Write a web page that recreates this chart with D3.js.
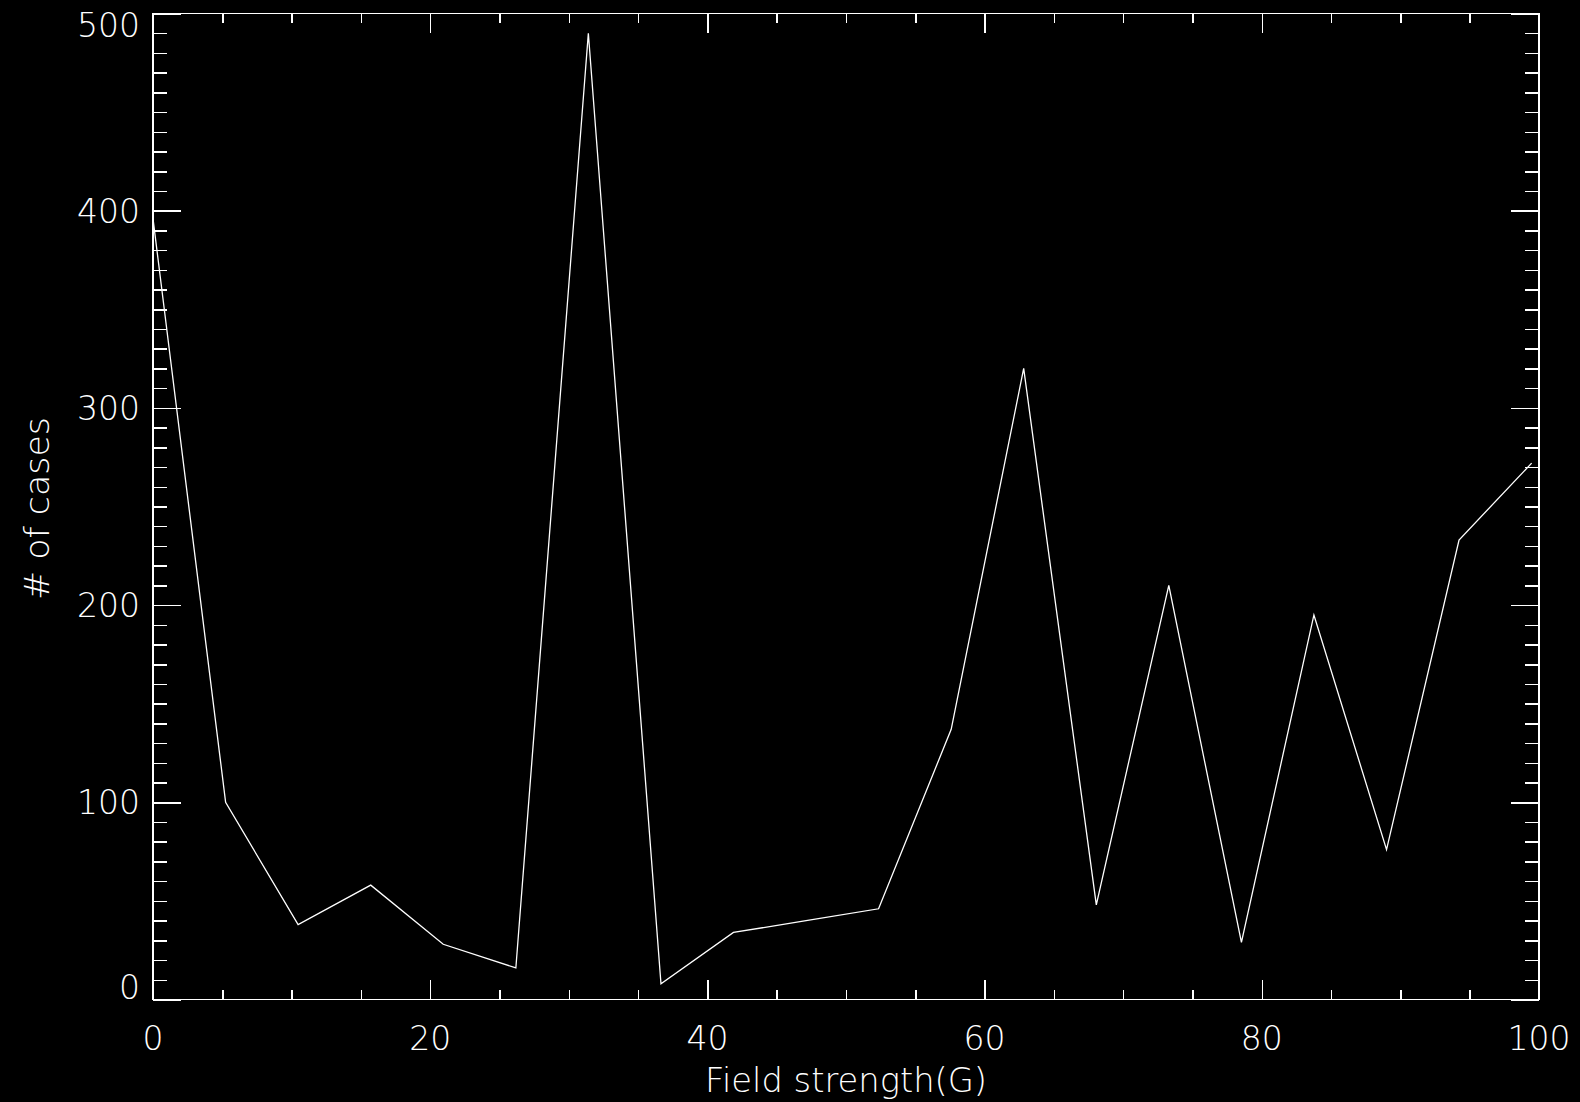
<!DOCTYPE html>
<html>
<head>
<meta charset="utf-8">
<script src="https://cdn.jsdelivr.net/npm/d3@7"></script>
<style>
  html, body { margin: 0; padding: 0; background: #000; }
  svg { display: block; }
  text { fill: #fff; font-family: "DejaVu Sans", sans-serif; font-weight: 200; }
</style>
</head>
<body>
<script>
// histogram of field strengths
const fieldStrength = [0, 5.24, 10.47, 15.71, 20.94, 26.18, 31.41, 36.65, 41.88, 47.12,
  52.35, 57.59, 62.82, 68.06, 73.29, 78.53, 83.76, 89.0, 94.23, 99.47];
const cases = [396, 100, 38, 58, 28, 16, 490, 8, 34, 40,
  46, 137, 320, 48, 210, 29, 195, 76, 233, 272];

const xTicks = [0, 20, 40, 60, 80, 100];
const yTicks = [0, 100, 200, 300, 400, 500];
const xTitle = "Field strength(G)";
const yTitle = "# of cases";

const w = 1580;
const h = 1102;
const pLeft = 153, pRight = 1539, pTop = 13.5, pBottom = 999.5;

const xScale = d3.scaleLinear().domain([0, 100]).range([pLeft, pRight]);
const yScale = d3.scaleLinear().domain([0, 500]).range([pBottom, pTop]);

const svg = d3.select("body").append("svg")
  .attr("width", w)
  .attr("height", h);

const xMinor = d3.range(0, 101, 5).filter(v => !xTicks.includes(v));
const yMinor = d3.range(0, 501, 10).filter(v => !yTicks.includes(v));

// tick length like IDL: 2% of the other side
const xLen = 0.02 * (pBottom - pTop);
const yLen = 0.02 * (pRight - pLeft);

function drawAxis(axis, tr) {
  const g = svg.append("g").attr("transform", tr).call(axis);
  g.select(".domain").remove();
  g.selectAll("line").attr("stroke", "#fff").attr("stroke-width", 1.5).attr("shape-rendering", "crispEdges");
  return g;
}

// bottom / top
drawAxis(d3.axisBottom(xScale).tickValues(xTicks).tickSize(-xLen).tickFormat(""), "translate(0," + pBottom + ")");
drawAxis(d3.axisBottom(xScale).tickValues(xMinor).tickSize(-xLen / 2).tickFormat(""), "translate(0," + pBottom + ")");
drawAxis(d3.axisTop(xScale).tickValues(xTicks).tickSize(-xLen).tickFormat(""), "translate(0," + pTop + ")");
drawAxis(d3.axisTop(xScale).tickValues(xMinor).tickSize(-xLen / 2).tickFormat(""), "translate(0," + pTop + ")");
// left / right
drawAxis(d3.axisLeft(yScale).tickValues(yTicks).tickSize(-yLen).tickFormat(""), "translate(" + pLeft + ",0)");
drawAxis(d3.axisLeft(yScale).tickValues(yMinor).tickSize(-yLen / 2).tickFormat(""), "translate(" + pLeft + ",0)");
drawAxis(d3.axisRight(yScale).tickValues(yTicks).tickSize(-yLen).tickFormat(""), "translate(" + pRight + ",0)");
drawAxis(d3.axisRight(yScale).tickValues(yMinor).tickSize(-yLen / 2).tickFormat(""), "translate(" + pRight + ",0)");

// frame
svg.append("rect")
  .attr("x", pLeft).attr("y", pTop)
  .attr("width", pRight - pLeft).attr("height", pBottom - pTop)
  .attr("fill", "none").attr("stroke", "#fff").attr("stroke-width", 1.5)
  .attr("shape-rendering", "crispEdges");

// tick labels
svg.selectAll(".xlab")
  .data(xTicks)
  .enter()
  .append("text")
  .attr("class", "xlab")
  .attr("x", d => xScale(d))
  .attr("y", 1050)
  .attr("text-anchor", "middle")
  .attr("font-size", 33)
  .text(d => d);

svg.selectAll(".ylab")
  .data(yTicks)
  .enter()
  .append("text")
  .attr("class", "ylab")
  .attr("x", 140)
  .attr("y", d => Math.min(Math.max(yScale(d), pTop + 12), pBottom - 12))
  .attr("dy", "0.36em")
  .attr("text-anchor", "end")
  .attr("font-size", 33)
  .text(d => d);

// titles
svg.append("text")
  .attr("x", (pLeft + pRight) / 2)
  .attr("y", 1092)
  .attr("text-anchor", "middle")
  .attr("font-size", 33)
  .attr("textLength", 282)
  .attr("lengthAdjust", "spacingAndGlyphs")
  .text(xTitle);

svg.append("text")
  .attr("transform", "translate(49," + ((pTop + pBottom) / 2 + 2) + ") rotate(-90)")
  .attr("text-anchor", "middle")
  .attr("font-size", 33)
  .attr("textLength", 183)
  .attr("lengthAdjust", "spacingAndGlyphs")
  .text(yTitle);

// data line
const line = d3.line()
  .x((d, i) => xScale(fieldStrength[i]))
  .y(d => yScale(d));

svg.append("path")
  .datum(cases)
  .attr("d", line)
  .attr("fill", "none")
  .attr("stroke", "#fff")
  .attr("stroke-width", 1.3)
  .attr("stroke-linejoin", "miter");
</script>
</body>
</html>
